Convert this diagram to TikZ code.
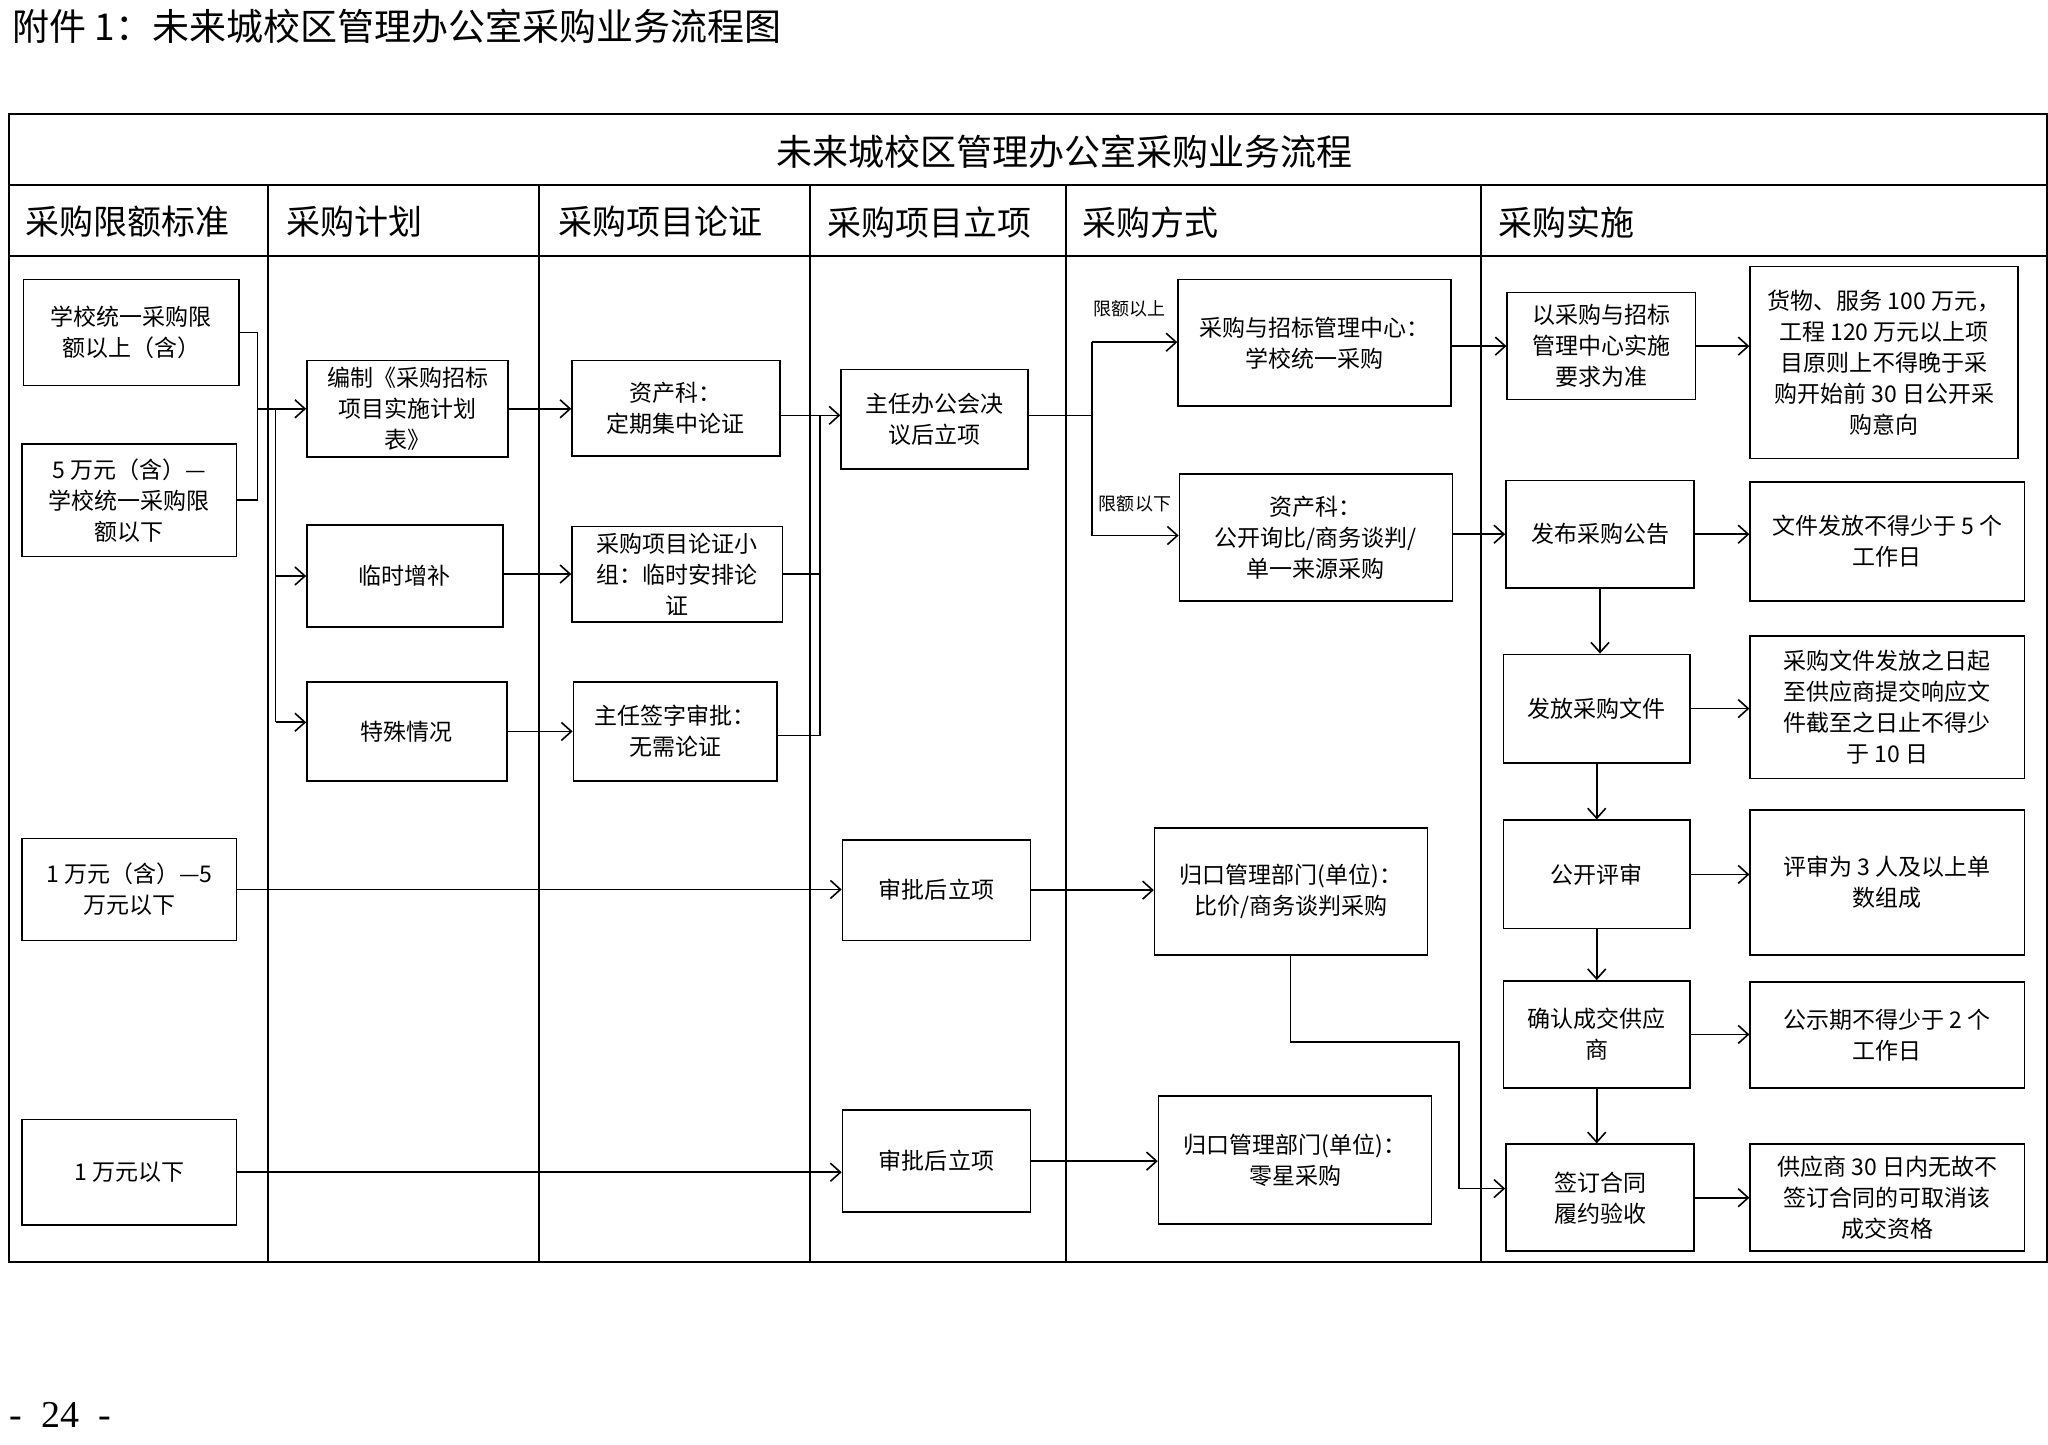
\documentclass[tikz,border=0pt]{standalone}
\usepackage{fontspec}
\setmainfont{Noto Sans CJK SC}
\newfontfamily\pgfont{Liberation Serif}
\usetikzlibrary{arrows.meta}
\newcommand\mybox[6]{\node[box,minimum width={(#4-#2)*0.653pt},minimum height={(#5-#3)*0.653pt}] (#1) at ({(#2+#4)/2},{(#3+#5)/2}) {#6};}
\begin{document}
\begin{tikzpicture}[x=0.653pt,y=-0.653pt,
  box/.style={draw,line width=0.8pt,inner sep=0pt,align=center,font=\fontsize{11.5}{15.5}\selectfont},
  line/.style={line width=0.8pt},
  arr/.style={line width=0.8pt,-{Straight Barb[length=5pt,width=9pt]}},
  hdr/.style={anchor=west,font=\fontsize{17}{20}\selectfont},
  lbl/.style={anchor=west,font=\fontsize{9}{11}\selectfont}]
\useasboundingbox (0,0) rectangle (1568,1105.6);
\node[anchor=west,font=\fontsize{18.5}{21}\selectfont] (ttl) at (4,20) {附件 1：未来城校区管理办公室采购业务流程图};
% table
\draw[line width=1pt] (7,87) rectangle (1567,966);
\draw[line width=1pt] (7,142) -- (1567,142) (7,196) -- (1567,196);
\foreach \x in {205,413,620,816,1134} \draw[line width=1pt] (\x,142) -- (\x,966);
\node[font=\fontsize{18}{21}\selectfont] (tt) at (815,116) {未来城校区管理办公室采购业务流程};
\node[hdr] (h1) at (14,170) {采购限额标准};
\node[hdr] (h2) at (214,170) {采购计划};
\node[hdr] (h3) at (422,170) {采购项目论证};
\node[hdr] (h4) at (628,170) {采购项目立项};
\node[hdr] (h5) at (823,170) {采购方式};
\node[hdr] (h6) at (1142,170) {采购实施};
% boxes
\mybox{A1}{18}{214}{183}{295}{学校统一采购限\\额以上（含）}
\mybox{A2}{17}{340}{181}{426}{5 万元（含）—\\学校统一采购限\\额以下}
\mybox{A3}{17}{642}{181}{720}{1 万元（含）—5\\万元以下}
\mybox{A4}{17}{857}{181}{938}{1 万元以下}
\mybox{B1}{235}{276}{389}{350}{编制《采购招标\\项目实施计划\\表》}
\mybox{B2}{235}{402}{385}{480}{临时增补}
\mybox{B3}{235}{522}{388}{598}{特殊情况}
\mybox{C1}{438}{276}{597}{349}{资产科：\\定期集中论证}
\mybox{C2}{438}{403}{599}{476}{采购项目论证小\\组：临时安排论\\证}
\mybox{C3}{439}{522}{595}{598}{主任签字审批：\\无需论证}
\mybox{D1}{644}{283}{787}{359}{主任办公会决\\议后立项}
\mybox{D2}{645}{643}{789}{720}{审批后立项}
\mybox{D3}{645}{850}{789}{928}{审批后立项}
\mybox{E1}{902}{214}{1111}{311}{采购与招标管理中心：\\学校统一采购}
\mybox{E2}{903}{363}{1112}{460}{资产科：\\公开询比/商务谈判/\\单一来源采购}
\mybox{E3}{884}{634}{1093}{731}{归口管理部门(单位)：\\比价/商务谈判采购}
\mybox{E4}{887}{839}{1096}{937}{归口管理部门(单位)：\\零星采购}
\mybox{F1}{1154}{224}{1298}{306}{以采购与招标\\管理中心实施\\要求为准}
\mybox{F2}{1153}{368}{1297}{450}{发布采购公告}
\mybox{F3}{1151}{501}{1294}{584}{发放采购文件}
\mybox{F4}{1151}{628}{1294}{711}{公开评审}
\mybox{F5}{1151}{751}{1294}{833}{确认成交供应\\商}
\mybox{F6}{1153}{876}{1297}{958}{签订合同\\履约验收}
\mybox{G1}{1340}{204}{1545}{351}{货物、服务 100 万元，\\工程 120 万元以上项\\目原则上不得晚于采\\购开始前 30 日公开采\\购意向}
\mybox{G2}{1340}{369}{1550}{460}{文件发放不得少于 5 个\\工作日}
\mybox{G3}{1340}{487}{1550}{596}{采购文件发放之日起\\至供应商提交响应文\\件截至之日止不得少\\于 10 日}
\mybox{G4}{1340}{620}{1550}{731}{评审为 3 人及以上单\\数组成}
\mybox{G5}{1340}{752}{1550}{833}{公示期不得少于 2 个\\工作日}
\mybox{G6}{1340}{876}{1550}{958}{供应商 30 日内无故不\\签订合同的可取消该\\成交资格}
% connectors col1 -> col2
\coordinate (j1) at (197,313);
\coordinate (j2) at (211,313);
\coordinate (j3) at (211,553);
\draw[line] (A1.east) -| (j1);
\draw[line] (A2.east) -| (j1);
\draw[arr] (j1) -- (j1 -| B1.west);
\draw[line] (j2) -- (j3);
\draw[arr] (j2 |- B2.west) -- (B2.west);
\draw[arr] (j3) -- (j3 -| B3.west);
% col2 -> col3
\draw[arr] (B1.east) -- (C1.west |- B1.east);
\draw[arr] (B2.east |- C2.west) -- (C2.west);
\draw[arr] (B3.east) -- (C3.west |- B3.east);
% col3 -> col4
\coordinate (k1) at (628,318);
\coordinate (k2) at (628,563);
\draw[line] (C1.east |- k1) -- (k1);
\draw[line] (C2.east) -- (C2.east -| k1);
\draw[line] (C3.east |- k2) -- (k2) -- (k1);
\draw[arr] (k1) -- (k1 -| D1.west);
% col4 -> col5
\coordinate (m0) at (836,318);
\coordinate (m1) at (836,262);
\coordinate (m2) at (836,410);
\draw[line] (D1.east |- m0) -- (m0);
\draw[line] (m1) -- (m2);
\draw[arr] (m1) -- (m1 -| E1.west);
\draw[arr] (m2) -- (m2 -| E2.west);
\node[lbl] (l1) at (832,236) {限额以上};
\node[lbl] (l2) at (836,386) {限额以下};
% col5 -> col6
\draw[arr] (E1.east |- F1.west) -- (F1.west);
\draw[arr] (E2.east |- F2.west) -- (F2.west);
\foreach \a/\b in {F1/G1,F2/G2,F3/G3,F4/G4,F5/G5,F6/G6} \draw[arr] (\a.east) -- (\a.east -| \b.west);
\draw[arr] (F2.south) -- (F2.south |- F3.north);
\draw[arr] (F3.south) -- (F3.south |- F4.north);
\draw[arr] (F4.south) -- (F4.south |- F5.north);
\draw[arr] (F5.south) -- (F5.south |- F6.north);
% lower rows
\draw[arr] (A3.east) -- (A3.east -| D2.west);
\draw[arr] (D2.east) -- (D2.east -| E3.west);
\draw[arr] (A4.east) -- (A4.east -| D3.west);
\draw[arr] (D3.east) -- (D3.east -| E4.west);
\coordinate (n1) at (988,798);
\coordinate (n2) at (1117,798);
\coordinate (n3) at (1117,910);
\draw[arr] (E3.south -| n1) -- (n1) -- (n2) -- (n3) -- (n3 -| F6.west);
\node[anchor=west,font=\pgfont\fontsize{19}{21}\selectfont] (pg) at (2,1083) {-\ \ 24\ \ -};
\end{tikzpicture}
\end{document}
